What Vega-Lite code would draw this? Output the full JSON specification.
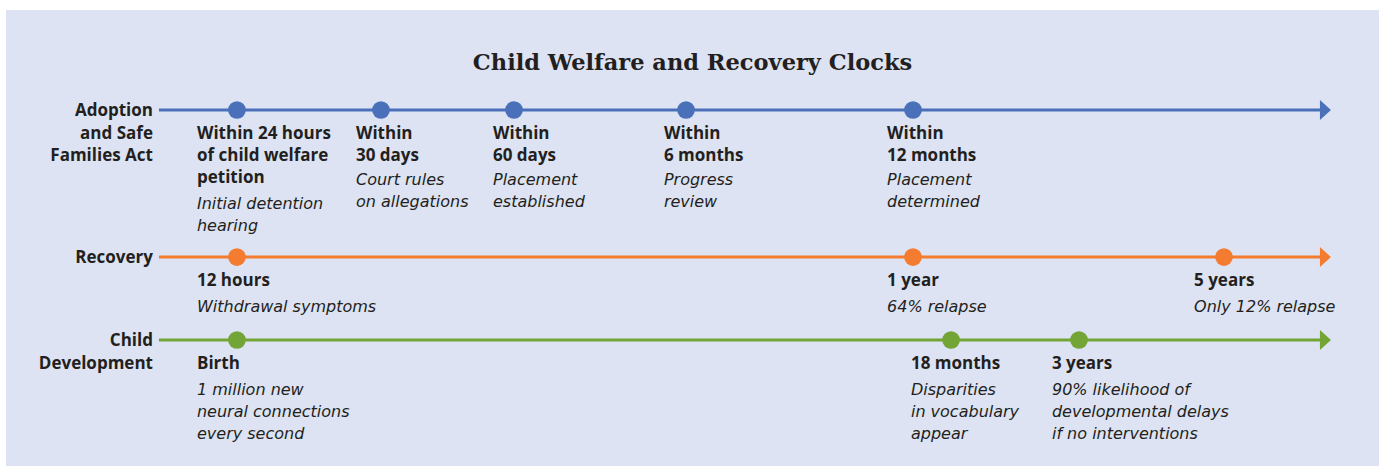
{
  "$schema": "https://vega.github.io/schema/vega-lite/v6.json",
  "width": 1379,
  "height": 468,
  "autosize": {"type": "fit", "contains": "padding"},
  "padding": {"left": 6, "top": 10, "right": 0, "bottom": 2},
  "background": "#ffffff",
  "config": {
    "view": {"fill": "#dde3f2", "stroke": null},
    "text": {"font": "Open Sans", "fontSize": 17, "color": "#231f20"}
  },
  "title": {
    "text": "Child Welfare and Recovery Clocks",
    "font": "DejaVu Serif",
    "fontSize": 22.5,
    "fontWeight": "bold",
    "color": "#231f20",
    "anchor": "middle",
    "frame": "group",
    "offset": -64
  },
  "datasets": {
    "tracks": [
      {"track": "Adoption and Safe Families Act", "name": ["Adoption", "and Safe", "Families Act"], "lane": 21.93, "start": 11.14, "end": 95.8, "arrow": 96.1},
      {"track": "Recovery", "name": ["Recovery"], "lane": 54.17, "start": 11.14, "end": 95.8, "arrow": 96.1},
      {"track": "Child Development", "name": ["Child", "Development"], "lane": 72.37, "start": 11.14, "end": 95.8, "arrow": 96.1}
    ],
    "events": [
      {"track": "Adoption and Safe Families Act", "lane": 21.93, "pos": 16.82, "labelPos": 13.91, "label": ["Within 24 hours", "of child welfare", "petition"], "desc": ["Initial detention", "hearing"]},
      {"track": "Adoption and Safe Families Act", "lane": 21.93, "pos": 27.31, "labelPos": 25.49, "label": ["Within", "30 days"], "desc": ["Court rules", "on allegations"]},
      {"track": "Adoption and Safe Families Act", "lane": 21.93, "pos": 37.0, "labelPos": 35.47, "label": ["Within", "60 days"], "desc": ["Placement", "established"]},
      {"track": "Adoption and Safe Families Act", "lane": 21.93, "pos": 49.53, "labelPos": 47.92, "label": ["Within", "6 months"], "desc": ["Progress", "review"]},
      {"track": "Adoption and Safe Families Act", "lane": 21.93, "pos": 66.06, "labelPos": 64.17, "label": ["Within", "12 months"], "desc": ["Placement", "determined"]},
      {"track": "Recovery", "lane": 54.17, "pos": 16.82, "labelPos": 13.91, "label": ["12 hours"], "desc": ["Withdrawal symptoms"]},
      {"track": "Recovery", "lane": 54.17, "pos": 66.06, "labelPos": 64.17, "label": ["1 year"], "desc": ["64% relapse"]},
      {"track": "Recovery", "lane": 54.17, "pos": 88.71, "labelPos": 86.53, "label": ["5 years"], "desc": ["Only 12% relapse"]},
      {"track": "Child Development", "lane": 72.37, "pos": 16.82, "labelPos": 13.91, "label": ["Birth"], "desc": ["1 million new", "neural connections", "every second"]},
      {"track": "Child Development", "lane": 72.37, "pos": 68.83, "labelPos": 65.91, "label": ["18 months"], "desc": ["Disparities", "in vocabulary", "appear"]},
      {"track": "Child Development", "lane": 72.37, "pos": 78.15, "labelPos": 76.18, "label": ["3 years"], "desc": ["90% likelihood of", "developmental delays", "if no interventions"]}
    ]
  },
  "layer": [
    {
      "data": {"name": "tracks"},
      "mark": {"type": "rule", "strokeWidth": 3},
      "encoding": {
        "x": {"field": "start", "type": "quantitative", "scale": {"domain": [0, 100], "nice": false, "zero": false}, "axis": null},
        "x2": {"field": "end"},
        "y": {"field": "lane", "type": "quantitative", "scale": {"domain": [0, 100], "reverse": true, "nice": false, "zero": false}, "axis": null},
        "color": {"field": "track", "type": "nominal", "scale": {"domain": ["Adoption and Safe Families Act", "Recovery", "Child Development"], "range": ["#4a70b9", "#f47c30", "#72a535"]}, "legend": null}
      }
    },
    {
      "data": {"name": "tracks"},
      "mark": {"type": "point", "shape": "M -0.55 -1 L 0.55 0 L -0.55 1 Z", "filled": true, "opacity": 1, "size": 400, "strokeWidth": 0},
      "encoding": {
        "x": {"field": "arrow", "type": "quantitative"},
        "y": {"field": "lane", "type": "quantitative"},
        "color": {"field": "track", "type": "nominal", "legend": null}
      }
    },
    {
      "data": {"name": "tracks"},
      "mark": {"type": "text", "align": "right", "baseline": "top", "fontWeight": "bold", "dx": -6, "dy": -7, "lineHeight": 22.5},
      "encoding": {
        "x": {"field": "start", "type": "quantitative"},
        "y": {"field": "lane", "type": "quantitative"},
        "text": {"field": "name", "type": "nominal"}
      }
    },
    {
      "data": {"name": "events"},
      "mark": {"type": "circle", "size": 314, "opacity": 1},
      "encoding": {
        "x": {"field": "pos", "type": "quantitative"},
        "y": {"field": "lane", "type": "quantitative"},
        "color": {"field": "track", "type": "nominal", "legend": null}
      }
    },
    {
      "data": {"name": "events"},
      "mark": {"type": "text", "align": "left", "baseline": "top", "fontWeight": "bold", "dy": 16, "lineHeight": 22},
      "encoding": {
        "x": {"field": "labelPos", "type": "quantitative"},
        "y": {"field": "lane", "type": "quantitative"},
        "text": {"field": "label", "type": "nominal"}
      }
    },
    {
      "data": {"name": "events"},
      "transform": [{"filter": "length(datum.label) == 1"}],
      "mark": {"type": "text", "align": "left", "baseline": "top", "font": "DejaVu Sans", "fontSize": 16, "fontStyle": "italic", "dy": 42, "lineHeight": 22},
      "encoding": {
        "x": {"field": "labelPos", "type": "quantitative"},
        "y": {"field": "lane", "type": "quantitative"},
        "text": {"field": "desc", "type": "nominal"}
      }
    },
    {
      "data": {"name": "events"},
      "transform": [{"filter": "length(datum.label) == 2"}],
      "mark": {"type": "text", "align": "left", "baseline": "top", "font": "DejaVu Sans", "fontSize": 16, "fontStyle": "italic", "dy": 62, "lineHeight": 22},
      "encoding": {
        "x": {"field": "labelPos", "type": "quantitative"},
        "y": {"field": "lane", "type": "quantitative"},
        "text": {"field": "desc", "type": "nominal"}
      }
    },
    {
      "data": {"name": "events"},
      "transform": [{"filter": "length(datum.label) == 3"}],
      "mark": {"type": "text", "align": "left", "baseline": "top", "font": "DejaVu Sans", "fontSize": 16, "fontStyle": "italic", "dy": 86, "lineHeight": 22},
      "encoding": {
        "x": {"field": "labelPos", "type": "quantitative"},
        "y": {"field": "lane", "type": "quantitative"},
        "text": {"field": "desc", "type": "nominal"}
      }
    }
  ]
}
